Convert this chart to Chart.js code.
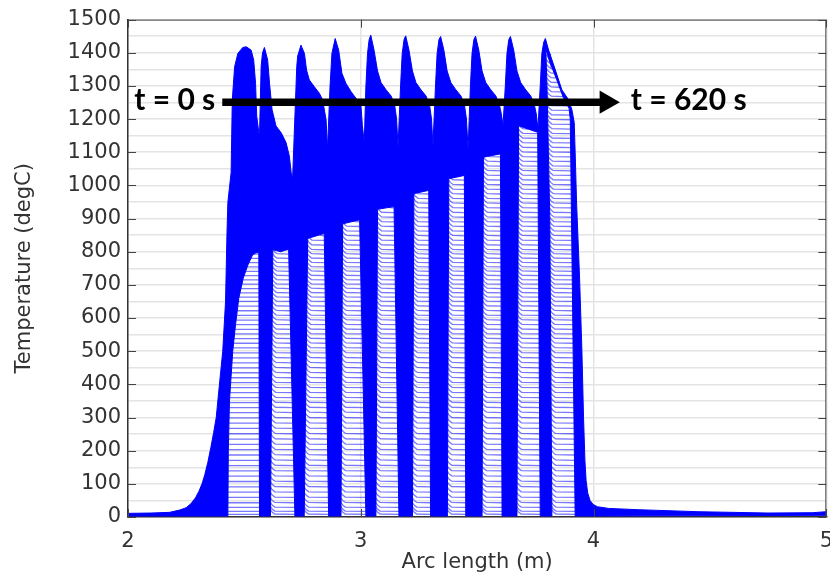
<!DOCTYPE html>
<html>
<head>
<meta charset="utf-8">
<script src="https://cdn.jsdelivr.net/npm/chart.js@4.4.1/dist/chart.umd.min.js"></script>
<style>
html, body { margin: 0; padding: 0; background: #fff; overflow: hidden; }
canvas { display: block; }
</style>
</head>
<body>
<canvas id="temp-chart" width="845" height="575"></canvas>
<script>
// upper edge of the bundle of temperature profiles
const envArc = [
  2.000, 2.100, 2.179, 2.222, 2.250, 2.270, 2.290, 2.305, 2.318, 2.330, 2.343, 2.356, 2.368, 2.379, 2.393, 2.407, 2.419, 2.425, 2.429,
  2.443, 2.448, 2.458, 2.472, 2.493, 2.508, 2.529, 2.540, 2.548, 2.553, 2.562, 2.565,
  2.572, 2.578, 2.586, 2.600, 2.608, 2.619, 2.636, 2.658, 2.679, 2.693, 2.701, 2.707,
  2.725, 2.729, 2.743, 2.758, 2.767, 2.779, 2.800, 2.822, 2.836, 2.851, 2.857,
  2.868, 2.876, 2.890, 2.905, 2.919, 2.936, 2.958, 2.979, 3.000, 3.007, 3.015,
  3.022, 3.029, 3.036, 3.043, 3.057, 3.072, 3.087, 3.109, 3.130, 3.145, 3.154, 3.160,
  3.171, 3.178, 3.186, 3.193, 3.207, 3.222, 3.237, 3.259, 3.280, 3.295, 3.304, 3.310,
  3.321, 3.328, 3.336, 3.343, 3.357, 3.371, 3.387, 3.409, 3.430, 3.445, 3.454, 3.461,
  3.471, 3.478, 3.486, 3.493, 3.507, 3.521, 3.537, 3.559, 3.580, 3.595, 3.604, 3.611,
  3.621, 3.628, 3.636, 3.643, 3.657, 3.671, 3.687, 3.709, 3.730, 3.745, 3.754, 3.761,
  3.771, 3.778, 3.786, 3.793, 3.807, 3.836, 3.864, 3.893, 3.907, 3.917, 3.921, 3.927,
  3.940, 3.950, 3.957, 3.963, 3.968, 3.975, 3.985, 3.998, 4.017, 4.064, 4.192, 4.449, 4.749, 4.942, 5.000
];
const envTemp = [
  11, 12, 14, 21, 28, 40, 58, 78, 100, 128, 165, 210, 255, 300, 401, 500, 650, 850, 949,
  1039, 1258, 1358, 1398, 1416, 1418, 1408, 1378, 1308, 1209, 1159, 1154,
  1359, 1400, 1416, 1378, 1308, 1228, 1179, 1159, 1129, 1089, 1039, 1019,
  1359, 1390, 1423, 1398, 1348, 1318, 1298, 1278, 1258, 1198, 1109,
  1300, 1398, 1443, 1408, 1338, 1308, 1283, 1263, 1248, 1180, 1129,
  1300, 1398, 1440, 1453, 1408, 1345, 1310, 1288, 1270, 1245, 1200, 1114,
  1300, 1398, 1440, 1451, 1408, 1345, 1310, 1288, 1270, 1245, 1200, 1119,
  1300, 1398, 1440, 1449, 1408, 1345, 1310, 1288, 1270, 1245, 1200, 1109,
  1300, 1398, 1440, 1450, 1408, 1345, 1310, 1288, 1270, 1245, 1215, 1180,
  1300, 1398, 1440, 1449, 1408, 1345, 1310, 1288, 1270, 1245, 1215, 1170,
  1300, 1398, 1432, 1443, 1408, 1348, 1288, 1258, 1228, 1190, 1100, 950,
  720, 500, 300, 170, 110, 72, 50, 38, 31, 26, 22, 16, 12, 13, 16
];
// lowest curve of the bundle (degC)
const floorTemp = 3;
const tailFloor = 5;

// the ten open gaps between the hot zones, where single curves are visible
const gapLeftBot  = [2.429, 2.612, 2.757, 2.915, 3.065, 3.222, 3.372, 3.521, 3.671, 3.821];
const gapRightBot = [2.565, 2.717, 2.862, 3.022, 3.164, 3.300, 3.451, 3.607, 3.771, 3.921];
// upper outline of each gap, from its left side over to its right side
const gapTopArc = [
  [2.429, 2.431, 2.436, 2.450, 2.462, 2.476, 2.495, 2.515, 2.535, 2.550, 2.562],
  [2.622, 2.656, 2.690],
  [2.772, 2.843],
  [2.922, 2.995],
  [3.072, 3.143],
  [3.228, 3.292],
  [3.378, 3.445],
  [3.527, 3.600],
  [3.678, 3.760],
  [3.812, 3.800, 3.795, 3.812, 3.840, 3.870, 3.895, 3.900]
];
const gapTopTemp = [
  [3, 200, 350, 500, 580, 660, 720, 760, 790, 797, 797],
  [806, 800, 808],
  [840, 855],
  [884, 896],
  [928, 936],
  [975, 985],
  [1020, 1030],
  [1085, 1095],
  [1180, 1160],
  [900, 1300, 1412, 1372, 1322, 1265, 1232, 1200]
];

// levels of the single curves seen inside the gaps (degC)
const bandLevels = [
  8, 17, 29, 43, 59, 75, 91, 107, 123, 139, 155, 171, 187, 203, 219, 235, 251, 267, 283,
  299, 315, 330, 345, 360, 375, 390, 405, 420, 435, 450, 465, 480, 495, 510, 524, 538,
  552, 566, 580, 594, 608, 622, 636, 650, 663, 676, 689, 702, 715, 728, 741, 754, 767,
  780, 793, 806, 820, 834, 848, 862, 876, 890, 904, 918, 932, 946, 960, 974, 988, 1002,
  1016, 1030, 1044, 1058, 1072, 1086, 1100, 1114, 1128, 1142, 1156, 1170, 1184, 1198,
  1212, 1226, 1240, 1254, 1268, 1282, 1296, 1310, 1324, 1338, 1352, 1366, 1380, 1394, 1408
];
// each curve enters a gap a little higher and settles (offset arc m, offset degC)
const bendArc  = [0, 0.007, 0.018];
const bendTemp = [14, 7, 1];

const yTicks = [0, 100, 200, 300, 400, 500, 600, 700, 800, 900, 1000, 1100, 1200, 1300, 1400, 1500];
const xTicks = [2, 3, 4, 5];

const blue = '#0000ff';

// outline of gap j as one closed path
function gapOutline(j) {
    let xs = [gapLeftBot[j]].concat(gapTopArc[j], [gapRightBot[j]]);
    let ys = [floorTemp].concat(gapTopTemp[j], [floorTemp]);
    return {xs, ys};
}

// where a level crosses the sides of gap j: [left, right] or null
function gapSpan(j, lev) {
    const {xs, ys} = gapOutline(j);
    let lo = null, hi = null;
    for (k = 0; k < xs.length - 1; k++) {
        const a = ys[k], b = ys[k + 1];
        if ((lev - a) * (lev - b) > 0 || a == b) continue;
        const xc = xs[k] + (xs[k + 1] - xs[k]) * (lev - a) / (b - a);
        if (lo === null || xc < lo) lo = xc;
        if (hi === null || xc > hi) hi = xc;
    }
    if (lo === null || hi - lo < 0.004) return null;
    return [lo, hi];
}

// solid region where the curves are packed together
let blob = [];
for (i = 0; i < envArc.length; i++) {
    blob.push({x: envArc[i], y: envTemp[i]});
}
blob.push({x: 5.0, y: tailFloor});
blob.push({x: 3.975, y: floorTemp});
for (j = gapLeftBot.length - 1; j >= 0; j--) {
    const {xs, ys} = gapOutline(j);
    for (k = xs.length - 1; k >= 0; k--) {
        blob.push({x: xs[k], y: ys[k]});
    }
}
blob.push({x: 2.0, y: floorTemp});

let datasets = [{
    data: blob,
    order: 1,
    fill: 'shape',
    backgroundColor: blue,
    borderColor: blue,
    borderWidth: 1,
    pointRadius: 0
}];

// thin curves in the gaps
for (i = 0; i < bandLevels.length; i++) {
    const lev = bandLevels[i];
    let pts = [];
    for (j = 0; j < gapLeftBot.length; j++) {
        const span = gapSpan(j, lev);
        if (!span) continue;
        if (j == 0) {
            pts.push({x: span[0], y: lev});
        } else {
            for (k = 0; k < bendArc.length; k++) {
                pts.push({x: span[0] + bendArc[k], y: lev + bendTemp[k]});
            }
        }
        pts.push({x: span[1], y: lev});
        pts.push({x: span[1] + 0.001, y: null});
    }
    datasets.push({
        data: pts,
        order: 2,
        borderColor: 'rgba(30,30,255,0.6)',
        borderWidth: 1.3,
        pointRadius: 0,
        spanGaps: false
    });
}

// time arrow
datasets.push({
    data: [{x: 2.405, y: 1251}, {x: 4.055, y: 1251}],
    order: 0,
    borderColor: '#000',
    borderWidth: 7.5,
    pointRadius: [0, 13.5],
    pointStyle: 'triangle',
    rotation: 90,
    pointBackgroundColor: '#000',
    pointBorderWidth: 0
});

const timeLabels = {
    id: 'timeLabels',
    afterDatasetsDraw(chart) {
        const {ctx, scales: {x, y}} = chart;
        ctx.save();
        ctx.fillStyle = '#000';
        ctx.font = 'bold 30px Lato';
        ctx.textBaseline = 'middle';
        ctx.textAlign = 'right';
        ctx.fillText('t = 0 s', x.getPixelForValue(2.375), y.getPixelForValue(1256));
        ctx.textAlign = 'left';
        ctx.fillText('t = 620 s', x.getPixelForValue(4.16), y.getPixelForValue(1256));
        ctx.restore();
    }
};

// box round the plot with the ticks pointing inwards
const frameTicks = {
    id: 'frameTicks',
    afterDatasetsDraw(chart) {
        const {ctx, chartArea: a, scales: {x, y}} = chart;
        ctx.save();
        ctx.strokeStyle = '#444';
        ctx.lineWidth = 1;
        ctx.beginPath();
        ctx.moveTo(a.left, a.top + 0.5);
        ctx.lineTo(a.right - 0.5, a.top + 0.5);
        ctx.lineTo(a.right - 0.5, a.bottom);
        for (const v of yTicks) {
            const py = Math.round(y.getPixelForValue(v)) + 0.5;
            ctx.moveTo(a.left, py);
            ctx.lineTo(a.left + 8, py);
            ctx.moveTo(a.right, py);
            ctx.lineTo(a.right - 8, py);
        }
        for (const v of xTicks) {
            const px = Math.round(x.getPixelForValue(v)) + 0.5;
            ctx.moveTo(px, a.bottom);
            ctx.lineTo(px, a.bottom - 8);
            ctx.moveTo(px, a.top);
            ctx.lineTo(px, a.top + 8);
        }
        ctx.stroke();
        ctx.restore();
    }
};

Chart.defaults.font.family = 'DejaVu Sans';
Chart.defaults.color = '#333';

const ctx = document.getElementById('temp-chart').getContext('2d');
const chart = new Chart(ctx, {
    type: 'line',
    data: { datasets: datasets },
    plugins: [timeLabels, frameTicks],
    options: {
        responsive: false,
        animation: false,
        events: [],
        devicePixelRatio: 1,
        layout: { padding: { left: 12, top: 16, right: 16, bottom: 0 } },
        plugins: {
            legend: { display: false },
            tooltip: { enabled: false }
        },
        scales: {
            x: {
                type: 'linear',
                min: 2,
                max: 5,
                afterFit: (scale) => { scale.height = 58; },
                ticks: {
                    stepSize: 1,
                    padding: 12,
                    font: { size: 21 },
                    color: '#333'
                },
                grid: { color: '#e4e4e4', lineWidth: 1.5, drawTicks: false },
                border: { color: '#333', width: 1.5 },
                title: {
                    display: true,
                    text: 'Arc length (m)',
                    font: { size: 21 },
                    color: '#333',
                    padding: { top: 0, bottom: 0 }
                }
            },
            y: {
                type: 'linear',
                min: 0,
                max: 1500,
                afterFit: (scale) => { scale.width = 116; },
                ticks: {
                    stepSize: 50,
                    autoSkip: false,
                    padding: 7,
                    font: { size: 21 },
                    color: '#333',
                    callback: (v) => (v % 100 == 0 ? v : '')
                },
                grid: { color: '#e4e4e4', lineWidth: 1.5, drawTicks: false },
                border: { color: '#333', width: 1.5 },
                title: {
                    display: true,
                    text: 'Temperature (degC)',
                    font: { size: 21 },
                    color: '#333',
                    padding: { top: 0, bottom: 0 }
                }
            }
        }
    }
});
</script>
</body>
</html>
